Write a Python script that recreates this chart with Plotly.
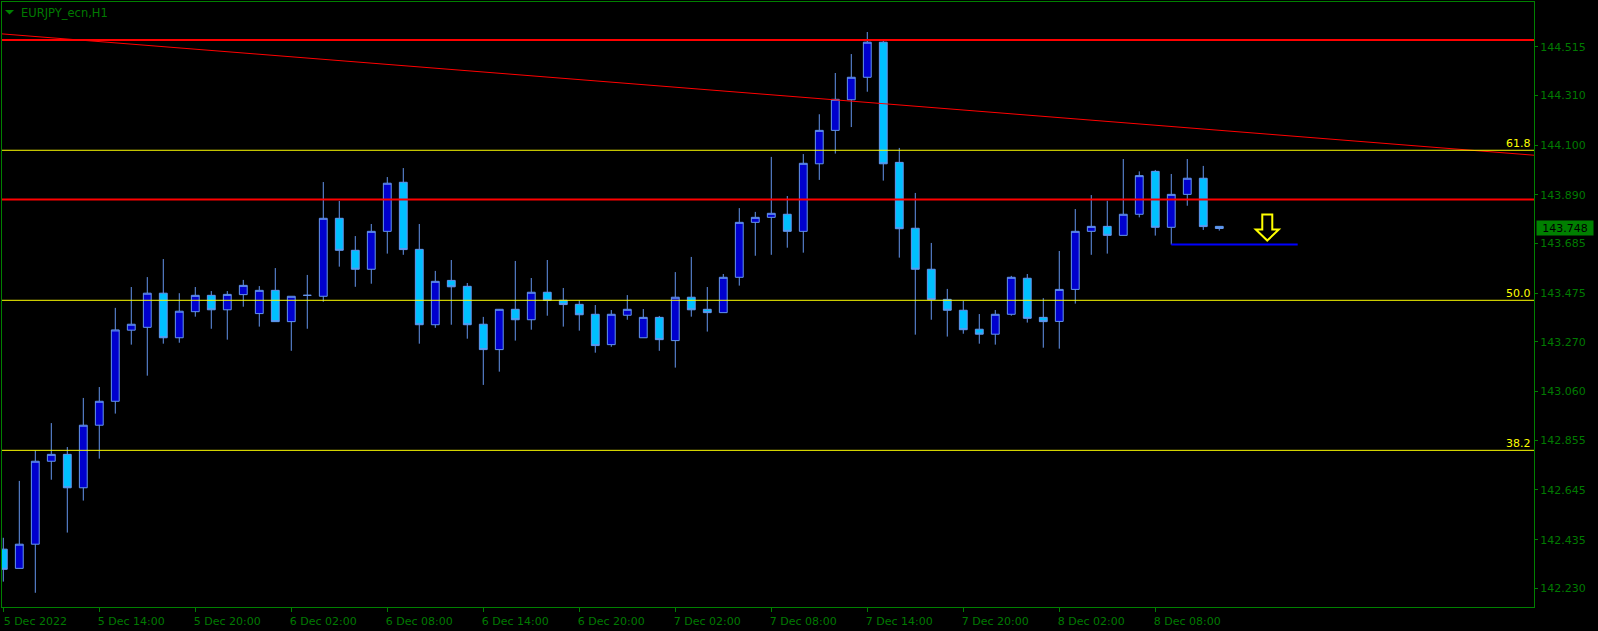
import plotly.graph_objects as go

# Renk paleti (MT4 koyu tema)
COLORS = {
    "bg": "#000000",
    "fg": "#008000",
    "text": "#007a00",
    "bull": "#0000CD",
    "bear": "#00BFFF",
    "wick": "#6495ED",
    "red": "#FF0000",
    "fibo": "#FFFF00",
    "blue": "#0000FF",
}
FONT = "DejaVu Sans"

# --- Veri: EURJPY H1, 5 Dec 2022 08:00'dan itibaren ---
opens = [
    142.395, 142.314, 142.416, 142.766, 142.795, 142.654, 142.918, 143.019, 143.319, 143.331,
    143.475, 143.287, 143.397, 143.466, 143.405, 143.469, 143.389, 143.487, 143.355, 143.466,
    143.462, 143.791, 143.656, 143.576, 143.736, 143.943, 143.660, 143.342, 143.529, 143.504,
    143.344, 143.237, 143.407, 143.363, 143.479, 143.445, 143.428, 143.386, 143.258, 143.382,
    143.287, 143.373, 143.275, 143.458, 143.407, 143.393, 143.542, 143.774, 143.795, 143.808,
    143.736, 144.021, 144.162, 144.291, 144.386, 144.534, 144.027, 143.749, 143.576, 143.449,
    143.403, 143.323, 143.302, 143.386, 143.538, 143.373, 143.356, 143.491, 143.736, 143.757,
    143.719, 143.808, 143.989, 143.753, 143.892, 143.960, 143.757,
]
highs = [
    142.443, 142.683, 142.811, 142.927, 142.826, 143.033, 143.079, 143.413, 143.501, 143.543,
    143.619, 143.475, 143.501, 143.484, 143.484, 143.531, 143.505, 143.581, 143.462, 143.552,
    143.944, 143.864, 143.716, 143.767, 143.965, 144.003, 143.767, 143.569, 143.615, 143.518,
    143.375, 143.408, 143.611, 143.539, 143.615, 143.497, 143.445, 143.425, 143.404, 143.467,
    143.408, 143.379, 143.564, 143.628, 143.501, 143.556, 143.834, 143.818, 144.050, 143.885,
    144.062, 144.230, 144.404, 144.484, 144.577, 144.540, 144.088, 143.898, 143.687, 143.493,
    143.443, 143.387, 143.404, 143.548, 143.556, 143.454, 143.653, 143.830, 143.889, 143.865,
    144.041, 143.989, 143.995, 143.978, 144.041, 144.012, 143.757,
]
lows = [
    142.258, 142.313, 142.211, 142.688, 142.465, 142.600, 142.777, 142.967, 143.258, 143.127,
    143.262, 143.266, 143.376, 143.325, 143.279, 143.418, 143.334, 143.355, 143.232, 143.325,
    143.439, 143.587, 143.502, 143.515, 143.642, 143.637, 143.262, 143.329, 143.342, 143.283,
    143.088, 143.144, 143.275, 143.321, 143.380, 143.334, 143.317, 143.224, 143.249, 143.363,
    143.287, 143.232, 143.161, 143.376, 143.313, 143.393, 143.507, 143.633, 143.637, 143.667,
    143.646, 143.953, 144.064, 144.176, 144.325, 143.950, 143.625, 143.300, 143.363, 143.292,
    143.304, 143.262, 143.258, 143.380, 143.351, 143.245, 143.241, 143.431, 143.637, 143.642,
    143.719, 143.795, 143.718, 143.680, 143.844, 143.742, 143.739,
]
closes = [
    142.310, 142.416, 142.766, 142.795, 142.654, 142.918, 143.019, 143.320, 143.344, 143.475,
    143.287, 143.399, 143.466, 143.405, 143.470, 143.508, 143.487, 143.355, 143.462, 143.466,
    143.791, 143.656, 143.576, 143.736, 143.939, 143.659, 143.342, 143.525, 143.502, 143.342,
    143.237, 143.407, 143.363, 143.479, 143.445, 143.427, 143.384, 143.254, 143.386, 143.407,
    143.373, 143.279, 143.458, 143.405, 143.393, 143.542, 143.774, 143.795, 143.812, 143.736,
    144.023, 144.162, 144.293, 144.386, 144.534, 144.021, 143.747, 143.576, 143.448, 143.403,
    143.321, 143.302, 143.386, 143.542, 143.369, 143.355, 143.491, 143.736, 143.757, 143.719,
    143.808, 143.971, 143.753, 143.892, 143.960, 143.756, 143.748,
]

x_labels = [
    "5 Dec 2022", "5 Dec 14:00", "5 Dec 20:00", "6 Dec 02:00", "6 Dec 08:00",
    "6 Dec 14:00", "6 Dec 20:00", "7 Dec 02:00", "7 Dec 08:00", "7 Dec 14:00",
    "7 Dec 20:00", "8 Dec 02:00", "8 Dec 08:00",
]
label_step = 6  # saat

y_ticks = [142.230, 142.435, 142.645, 142.855, 143.060, 143.270,
           143.475, 143.685, 143.890, 144.100, 144.310, 144.515]

# Cizim nesneleri
red_levels = [144.543, 143.870]
fibo_levels = [144.078, 143.445, 142.812]
fibo_names = ["61.8", "50.0", "38.2"]
trend_x = [-1, 97]
trend_y = [144.574, 144.050]
blue_x = [73, 80.9]
blue_y = 143.680
arrow_x, arrow_y = 79, 143.697
last_price = closes[-1]

bars = list(range(len(opens)))
x_range = [-0.081, 95.67]
y_range = [142.151, 144.7036]

fig = go.Figure()
fig.add_trace(go.Candlestick(
    x=bars, open=opens, high=highs, low=lows, close=closes,
    increasing=dict(fillcolor=COLORS["bull"], line=dict(color=COLORS["wick"], width=1)),
    decreasing=dict(fillcolor=COLORS["bear"], line=dict(color=COLORS["wick"], width=1)),
    hoverinfo="skip",
))

# Trend cizgisi
fig.add_trace(go.Scatter(
    x=trend_x, y=trend_y, mode="lines",
    line=dict(color=COLORS["red"], width=1), hoverinfo="skip",
))

shapes = []
for lvl in red_levels:
    shapes.append(dict(type="line", xref="paper", x0=0, x1=1, y0=lvl, y1=lvl,
                       line=dict(color=COLORS["red"], width=2)))
for lvl in fibo_levels:
    shapes.append(dict(type="line", xref="paper", x0=0, x1=1, y0=lvl, y1=lvl,
                       line=dict(color=COLORS["fibo"], width=1)))
shapes.append(dict(type="line", x0=blue_x[0], x1=blue_x[1], y0=blue_y, y1=blue_y,
                   line=dict(color=COLORS["blue"], width=2)))
# Asagi ok
shapes.append(dict(
    type="path", xsizemode="pixel", ysizemode="pixel",
    xanchor=arrow_x, yanchor=arrow_y,
    path="M 0,0 L 11.5,11 L 5,11 L 5,26 L -5,26 L -5,11 L -11.5,11 Z",
    line=dict(color=COLORS["fibo"], width=2), fillcolor=COLORS["bg"],
))
# Baslik ucgeni
shapes.append(dict(
    type="path", xref="paper", yref="paper", xsizemode="pixel", ysizemode="pixel",
    xanchor=0, yanchor=1, path="M 3,-8 L 12,-8 L 7.5,-12.5 Z",
    line=dict(color=COLORS["fg"], width=0), fillcolor=COLORS["fg"],
))

annotations = [
    dict(text="EURJPY_ecn,H1", xref="paper", yref="paper", x=0, y=1,
         xanchor="left", yanchor="top", xshift=17, yshift=-2, showarrow=False,
         font=dict(family=FONT, size=11.5, color=COLORS["text"])),
    dict(text=f"{last_price:.3f}", xref="paper", x=1, y=last_price,
         xanchor="left", yanchor="middle", xshift=2, showarrow=False,
         width=54, height=12, borderpad=1, align="center",
         bgcolor=COLORS["fg"], font=dict(family=FONT, size=11, color="#000000")),
]
for lvl, name in zip(fibo_levels, fibo_names):
    annotations.append(dict(text=name, xref="paper", x=1, y=lvl, xanchor="right",
                            yanchor="bottom", xshift=-1, yshift=-2, showarrow=False,
                            font=dict(family=FONT, size=11, color=COLORS["fibo"])))

fig.update_layout(
    width=1598, height=631,
    paper_bgcolor=COLORS["bg"], plot_bgcolor=COLORS["bg"],
    margin=dict(l=2, r=64, t=2, b=24),
    showlegend=False,
    font=dict(family=FONT, size=11, color=COLORS["text"]),
    shapes=shapes, annotations=annotations,
    xaxis=dict(
        range=x_range, rangeslider=dict(visible=False),
        tickvals=[i * label_step for i in range(len(x_labels))], ticktext=x_labels,
        ticks="outside", ticklen=4, tickcolor=COLORS["fg"], ticklabelshift=32,
        showgrid=False, zeroline=False,
        showline=True, mirror=True, linecolor=COLORS["fg"], linewidth=1,
        tickfont=dict(family=FONT, size=11, color=COLORS["text"]),
    ),
    yaxis=dict(
        range=y_range, side="right",
        tickvals=y_ticks, ticktext=[f"{v:.3f}" for v in y_ticks],
        ticks="outside", ticklen=3, tickcolor=COLORS["fg"],
        showgrid=False, zeroline=False,
        showline=True, mirror=True, linecolor=COLORS["fg"], linewidth=1,
        tickfont=dict(family=FONT, size=11, color=COLORS["text"]),
    ),
)

# Sayfa kenar boslugunu kaldir, arac cubugunu gizle
fig.write_html("out.html", config={"displayModeBar": False},
               post_script="document.body.style.margin='0';")
